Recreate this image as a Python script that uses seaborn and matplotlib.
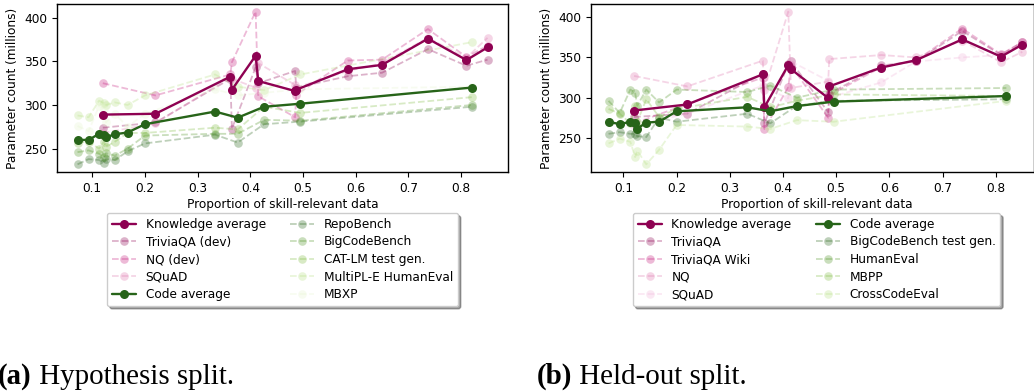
import matplotlib
matplotlib.use("Agg")
import matplotlib.pyplot as plt
import seaborn as sns

# ---------------- data ----------------
know_x = [0.12, 0.22, 0.362, 0.365, 0.41, 0.415, 0.485, 0.487, 0.585, 0.65, 0.737, 0.81, 0.85]
code_x = [0.072, 0.093, 0.113, 0.122, 0.126, 0.143, 0.167, 0.2, 0.333, 0.376, 0.426, 0.495, 0.82]

# (a) Hypothesis split
a_know_avg = [289, 290, 332.5, 317.5, 356.5, 327.5, 316, 317.5, 341, 346, 376, 351.5, 366]
a_triviaqa_dev = [274, 280, 330, 273, 343, 325, 339, 320, 333, 337, 364, 345, 352]
a_nq_dev = [325, 311, 335, 349, 407, 310, 286, 312, 351, 352, 387, 355, 368]
a_squad = [268, 279, 332, 330, 320, 348, 323, 320, 339, 348, 377, 354, 377]

a_code_avg = [260, 260, 267, 266, 263, 266.5, 268.5, 278, 292.5, 285.5, 298, 301.5, 320]
a_repobench = [232, 238, 237, 234, 238, 237, 247, 256, 266, 257, 278, 281, 298]
a_bigcodebench = [246, 248, 244, 240, 245, 242, 250, 265, 267, 267, 283, 282, 300]
a_catlm = [257, 258, 250, 258, 252, 258, 268, 268, 274, 272, 298, 291, 309]
a_multiple = [288, 286, 305, 302, 300, 303, 300, 311, 335, 321, 317, 335, 372]
a_mbxp = [276, 270, 299, 296, 280, 290, 275, 290, 318, 311, 314, 318, 321]

# (b) Held-out split
b_know_avg = [284, 291.5, 329, 288, 340.5, 335.5, 299.5, 314, 337.5, 346.5, 372.5, 351, 366]
b_triviaqa = [276, 280, 330, 268, 342, 345, 282, 305, 340, 345, 383, 353, 369]
b_triviaqa_wiki = [268, 292, 325, 261, 313, 340, 275, 303, 338, 346, 386, 354, 369]
b_nq = [327, 314, 346, 310, 407, 312, 320, 348, 353, 350, 371, 344, 357]
b_squad = [265, 280, 315, 313, 299, 345, 321, 300, 319, 345, 350, 353, 369]

b_code_avg = [270, 267, 270, 269, 261.5, 269, 270, 283, 288, 283, 289.5, 295, 302]
b_bigcode_testgen = [255, 257, 255, 255, 252, 251, 275, 270, 280, 268, 290, 296, 298]
b_humaneval = [296, 281, 310, 306, 290, 310, 294, 310, 307, 315, 300, 310, 312]
b_mbpp = [286, 280, 268, 289, 270, 298, 276, 286, 301, 288, 296, 304, 302]
b_crosscodeeval = [243, 249, 245, 226, 234, 217, 235, 266, 264, 261, 272, 270, 296]

x_label = "Proportion of skill-relevant data"
y_label = "Parameter count (millions)"

# ---------------- style ----------------
sns.set_theme(style="ticks")
plt.rcParams.update({
    "font.family": ["DejaVu Sans"],
    "axes.edgecolor": "black",
    "axes.labelcolor": "black",
    "xtick.color": "black",
    "ytick.color": "black",
    "text.color": "black",
    "axes.linewidth": 1.0,
})
FS = 8.7
KNOW_DARK = "#8e0152"
CODE_DARK = "#276419"
PINKS = ["#8e0152", "#c51b7d", "#de77ae", "#f1b6da"]
GREENS = ["#276419", "#4d9221", "#7fbc41", "#b8e186", "#e6f5d0"]
FADE = 0.3

W, H = 1034, 391
fig = plt.figure(figsize=(W / 100, H / 100), dpi=100)
bottom = (H - 172) / H
height = 168 / H
ax_a = fig.add_axes([57 / W, bottom, 451 / W, height])
ax_b = fig.add_axes([591 / W, bottom, 443 / W, height])


def avg_line(ax, x, y, color, label):
    sns.lineplot(x=x, y=y, ax=ax, color=color, marker="o", markersize=6.5,
                 markeredgewidth=0, linewidth=1.7, label=label, estimator=None,
                 zorder=4)


def task_line(ax, x, y, color, label):
    sns.lineplot(x=x, y=y, ax=ax, color=color, marker="o", markersize=6.2,
                 markeredgewidth=0, linewidth=1.3, linestyle="--", alpha=FADE,
                 label=label, estimator=None, zorder=2)


# (a)
avg_line(ax_a, know_x, a_know_avg, KNOW_DARK, "Knowledge average")
task_line(ax_a, know_x, a_triviaqa_dev, PINKS[0], "TriviaQA (dev)")
task_line(ax_a, know_x, a_nq_dev, PINKS[1], "NQ (dev)")
task_line(ax_a, know_x, a_squad, PINKS[2], "SQuAD")
avg_line(ax_a, code_x, a_code_avg, CODE_DARK, "Code average")
task_line(ax_a, code_x, a_repobench, GREENS[0], "RepoBench")
task_line(ax_a, code_x, a_bigcodebench, GREENS[1], "BigCodeBench")
task_line(ax_a, code_x, a_catlm, GREENS[2], "CAT-LM test gen.")
task_line(ax_a, code_x, a_multiple, GREENS[3], "MultiPL-E HumanEval")
task_line(ax_a, code_x, a_mbxp, GREENS[4], "MBXP")

# (b)
avg_line(ax_b, know_x, b_know_avg, KNOW_DARK, "Knowledge average")
task_line(ax_b, know_x, b_triviaqa, PINKS[0], "TriviaQA")
task_line(ax_b, know_x, b_triviaqa_wiki, PINKS[1], "TriviaQA Wiki")
task_line(ax_b, know_x, b_nq, PINKS[2], "NQ")
task_line(ax_b, know_x, b_squad, PINKS[3], "SQuAD")
avg_line(ax_b, code_x, b_code_avg, CODE_DARK, "Code average")
task_line(ax_b, code_x, b_bigcode_testgen, GREENS[0], "BigCodeBench test gen.")
task_line(ax_b, code_x, b_humaneval, GREENS[1], "HumanEval")
task_line(ax_b, code_x, b_mbpp, GREENS[2], "MBPP")
task_line(ax_b, code_x, b_crosscodeeval, GREENS[3], "CrossCodeEval")

ax_b.set_xlim(0.039, 0.872)

for ax, cx in ((ax_a, 0.5), (ax_b, (816.5 - 591) / 443)):
    for s in ax.spines.values():
        s.set_visible(True)
        s.set_color("black")
    ax.set_xticks([0.1, 0.2, 0.3, 0.4, 0.5, 0.6, 0.7, 0.8])
    ax.set_yticks([250, 300, 350, 400])
    ax.tick_params(labelsize=FS, length=3.5, width=0.8, direction="out")
    ax.set_xlabel(x_label, fontsize=FS)
    ax.set_ylabel(y_label, fontsize=FS)
    ax.xaxis.set_label_coords(cx, -0.155)
    h, l = ax.get_legend_handles_labels()
    ax.legend(h, l, ncol=2, loc="upper center", bbox_to_anchor=(cx, -0.244),
              fontsize=FS, shadow=True, fancybox=True, frameon=True,
              borderaxespad=0, handlelength=2.0, labelspacing=0.38,
              edgecolor="0.8", framealpha=1)

# captions
serif = ["Liberation Serif", "DejaVu Serif"]
CFS = 20.9
base_y = (H - 384) / H
renderer = fig.canvas.get_renderer()
for x0, tag, rest in ((-2 / W, "(a)", " Hypothesis split."), (537 / W, "(b)", " Held-out split.")):
    t = fig.text(x0, base_y, tag, fontsize=CFS, family=serif, fontweight="bold", va="baseline")
    bb = t.get_window_extent(renderer=renderer)
    fig.text(bb.x1 / W, base_y, rest, fontsize=CFS, family=serif, va="baseline")

fig.savefig("out.png", dpi=100)
